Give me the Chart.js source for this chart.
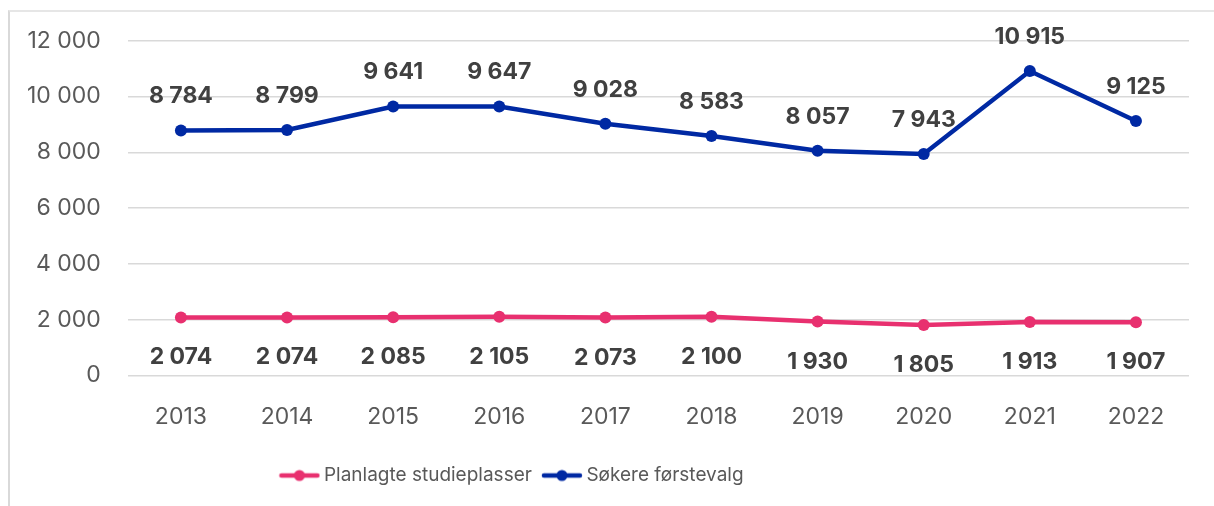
<!DOCTYPE html>
<html>
<head>
<meta charset="utf-8">
<script src="https://cdn.jsdelivr.net/npm/chart.js@4.4.0/dist/chart.umd.min.js"></script>
<style>
  html, body { margin: 0; padding: 0; background: #fff; }
  #wrap { position: relative; width: 1214px; height: 506px; }
  #frame { position: absolute; left: 8px; top: 10px; right: 0; bottom: 0;
           border-left: 2px solid #d9d9d9; border-top: 2px solid #e6e6e6; }
  canvas { position: absolute; left: 0; top: 0; }
</style>
</head>
<body>
<div id="wrap">
  <div id="frame"></div>
  <canvas id="c" width="1214" height="506"></canvas>
</div>
<script>
const years = ['2013','2014','2015','2016','2017','2018','2019','2020','2021','2022'];
const planlagte = [2074, 2074, 2085, 2105, 2073, 2100, 1930, 1805, 1913, 1907];
const sokere = [8784, 8799, 9641, 9647, 9028, 8583, 8057, 7943, 10915, 9125];
const yTicks = [0, 2000, 4000, 6000, 8000, 10000, 12000];

const PINK = '#E8306F';
const BLUE = '#0029A3';
const FONT = 'Inter, "Open Sans", sans-serif';
const LEGEND_CENTER_X = 514;

function fmt(v) {
  return String(v).replace(/\B(?=(\d{3})+(?!\d))/g, ' ');
}

function legendIcon(color) {
  const c = document.createElement('canvas');
  c.width = 42; c.height = 14;
  const g = c.getContext('2d');
  g.strokeStyle = color; g.lineWidth = 4.5; g.lineCap = 'round';
  g.beginPath(); g.moveTo(3, 7); g.lineTo(39, 7); g.stroke();
  g.fillStyle = color;
  g.beginPath(); g.arc(21, 7, 5.5, 0, Math.PI * 2); g.fill();
  return c;
}

const labelPlugin = {
  id: 'valueLabels',
  afterLayout(chart) {
    const lg = chart.legend;
    if (lg) {
      const shift = LEGEND_CENTER_X - (lg.left + lg.right) / 2;
      lg.left += shift; lg.right += shift;
    }
  },
  afterDatasetsDraw(chart) {
    const ctx = chart.ctx;
    ctx.save();
    ctx.font = 'bold 23px ' + FONT;
    ctx.fillStyle = '#404040';
    ctx.textAlign = 'center';
    ctx.textBaseline = 'middle';
    chart.data.datasets.forEach((ds, i) => {
      const meta = chart.getDatasetMeta(i);
      meta.data.forEach((pt, j) => {
        const dy = ds.labelPos === 'above' ? -34 : 40;
        ctx.fillText(fmt(ds.data[j]), pt.x, pt.y + dy);
      });
    });
    ctx.restore();
  }
};

new Chart(document.getElementById('c'), {
  type: 'line',
  data: {
    labels: years,
    datasets: [
      {
        label: 'Planlagte studieplasser',
        data: planlagte,
        borderColor: PINK, backgroundColor: PINK,
        borderWidth: 4.5, pointRadius: 6, pointHoverRadius: 6,
        pointBackgroundColor: PINK, pointBorderWidth: 0,
        labelPos: 'below', icon: legendIcon(PINK)
      },
      {
        label: 'Søkere førstevalg',
        data: sokere,
        borderColor: BLUE, backgroundColor: BLUE,
        borderWidth: 4.5, pointRadius: 6, pointHoverRadius: 6,
        pointBackgroundColor: BLUE, pointBorderWidth: 0,
        labelPos: 'above', icon: legendIcon(BLUE)
      }
    ]
  },
  options: {
    responsive: false,
    animation: false,
    layout: { padding: { left: 0, right: 25, top: 35, bottom: 11 } },
    scales: {
      x: {
        offset: true,
        grid: { display: false },
        border: { display: false },
        ticks: { color: '#595959', font: { family: FONT, size: 23 }, padding: 20 }
      },
      y: {
        min: 0, max: 12000,
        afterBuildTicks(axis) { axis.ticks = yTicks.map(v => ({ value: v })); },
        grid: { color: '#d9d9d9', lineWidth: 1.5, drawTicks: false },
        border: { display: false },
        ticks: { color: '#595959', font: { family: FONT, size: 23 }, padding: 27,
                 callback: v => fmt(v) }
      }
    },
    plugins: {
      legend: {
        position: 'bottom',
        labels: {
          color: '#595959',
          font: { family: FONT, size: 19 },
          usePointStyle: true,
          pointStyleWidth: 30,
          padding: 15,
          generateLabels(chart) {
            return chart.data.datasets.map((ds, i) => ({
              text: ds.label,
              pointStyle: ds.icon,
              fillStyle: ds.borderColor,
              strokeStyle: ds.borderColor,
              lineWidth: 0,
              fontColor: '#595959',
              hidden: false,
              datasetIndex: i
            }));
          }
        }
      },
      tooltip: { enabled: false }
    }
  },
  plugins: [labelPlugin]
});
</script>
</body>
</html>
